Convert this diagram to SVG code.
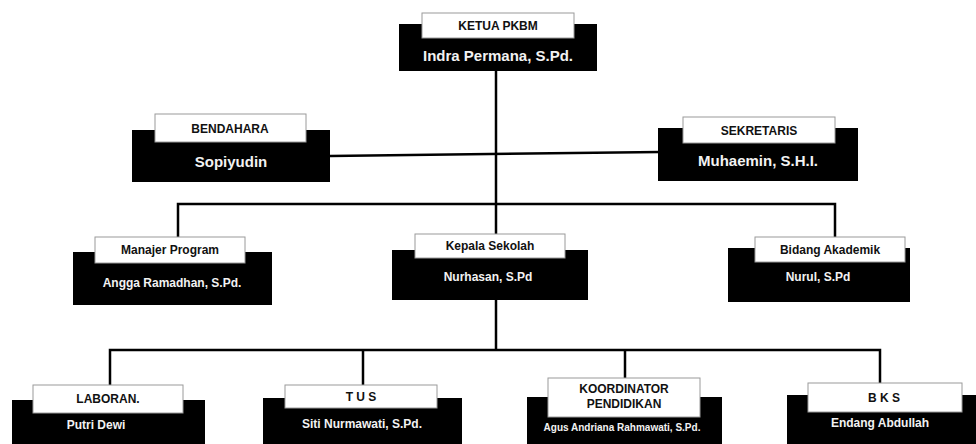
<svg xmlns="http://www.w3.org/2000/svg" width="976" height="444" viewBox="0 0 976 444">
<style>
.box{fill:#000;}
.lbl{fill:#fff;stroke:#9a9a9a;stroke-width:1;}
.lt{font-family:"Liberation Sans",Arial,sans-serif;font-size:12px;font-weight:bold;fill:#111;text-anchor:middle;}
.nt{font-family:"Liberation Sans",Arial,sans-serif;font-size:15px;font-weight:bold;fill:#f2f2f2;text-anchor:middle;}
.ns{font-family:"Liberation Sans",Arial,sans-serif;font-size:12px;font-weight:bold;fill:#f2f2f2;text-anchor:middle;}
.c{stroke:#000;stroke-width:2.5;fill:none;}
</style>
<rect width="976" height="444" fill="#fff"/>
<g id="connectors">
<line class="c" x1="496" y1="71" x2="496" y2="250"/>
<line class="c" x1="330" y1="156" x2="660" y2="152"/>
<polyline class="c" points="178,237 178,204 835,204 835,237"/>
<line class="c" x1="496" y1="300" x2="496" y2="350"/>
<polyline class="c" points="110,385 110,350 880,350 880,383"/>
<line class="c" x1="363" y1="350" x2="363" y2="385"/>
<line class="c" x1="625" y1="350" x2="625" y2="378"/>
</g>
<g id="ketua">
<rect class="box" x="399" y="24" width="198" height="47"/>
<rect class="lbl" x="422" y="13" width="152" height="25"/>
<text class="lt" x="498" y="30">KETUA PKBM</text>
<text class="nt" x="498" y="61">Indra Permana, S.Pd.</text>
</g>
<g id="bendahara">
<rect class="box" x="132" y="130" width="198" height="52"/>
<rect class="lbl" x="155" y="114" width="151" height="28"/>
<text class="lt" x="230" y="133">BENDAHARA</text>
<text class="nt" x="231" y="167">Sopiyudin</text>
</g>
<g id="sekretaris">
<rect class="box" x="658" y="128" width="200" height="53"/>
<rect class="lbl" x="683" y="117" width="152" height="26"/>
<text class="lt" x="759" y="135">SEKRETARIS</text>
<text class="nt" x="758" y="166">Muhaemin, S.H.I.</text>
</g>
<g id="bidang-kiri">
<rect class="box" x="73" y="252" width="199" height="53"/>
<rect class="lbl" x="95" y="237" width="150" height="26"/>
<text class="lt" x="170" y="254">Manajer Program</text>
<text class="ns" x="172" y="287">Angga Ramadhan, S.Pd.</text>
</g>
<g id="kepala-sekolah">
<rect class="box" x="392" y="250" width="196" height="50"/>
<rect class="lbl" x="415" y="234" width="150" height="24"/>
<text class="lt" x="490" y="250">Kepala Sekolah</text>
<text class="ns" x="488" y="281">Nurhasan, S.Pd</text>
</g>
<g id="bidang-kanan">
<rect class="box" x="728" y="248" width="182" height="54"/>
<rect class="lbl" x="755" y="237" width="150" height="25"/>
<text class="lt" x="830" y="254">Bidang Akademik</text>
<text class="ns" x="818" y="281">Nurul, S.Pd</text>
</g>
<g id="laboran">
<rect class="box" x="12" y="400" width="193" height="44"/>
<rect class="lbl" x="33" y="385" width="150" height="28"/>
<text class="lt" x="108" y="403">LABORAN.</text>
<text class="ns" x="96" y="429">Putri Dewi</text>
</g>
<g id="tus">
<rect class="box" x="263" y="398" width="199" height="46"/>
<rect class="lbl" x="285" y="385" width="152" height="23"/>
<text class="lt" x="361" y="401">T U S</text>
<text class="ns" x="362" y="428">Siti Nurmawati, S.Pd.</text>
</g>
<g id="koordinator">
<rect class="box" x="527" y="397" width="195" height="47"/>
<rect class="lbl" x="548" y="378" width="152" height="39"/>
<text class="lt" x="624" y="393">KOORDINATOR</text>
<text class="lt" x="624" y="408">PENDIDIKAN</text>
<text class="ns" x="622" y="431" style="font-size:10px">Agus Andriana Rahmawati, S.Pd.</text>
</g>
<g id="bks">
<rect class="box" x="787" y="395" width="189" height="49"/>
<rect class="lbl" x="808" y="383" width="154" height="29"/>
<text class="lt" x="884" y="402">B K S</text>
<text class="ns" x="880" y="427">Endang Abdullah</text>
</g>
</svg>
